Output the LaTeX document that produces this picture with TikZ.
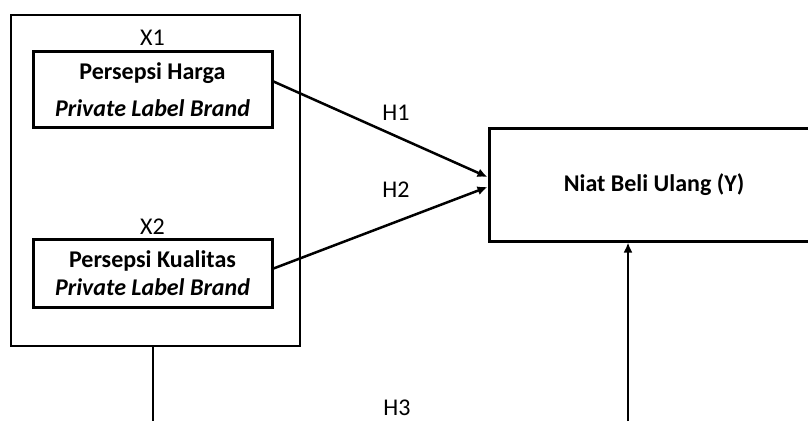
\documentclass[tikz,border=0pt]{standalone}
\usepackage{fontspec}
\setmainfont{Carlito}
\usetikzlibrary{positioning, arrows.meta}

\begin{document}
\begin{tikzpicture}[x=1pt, y=-1pt, node distance={2pt},
    font=\fontsize{24}{28}\selectfont,
    kotak/.style = {draw, line width=3pt, minimum width=239pt, align=center, inner sep=0pt},
    label/.style = {inner sep=0pt},
    panah/.style = {line width=2.5pt, -{Latex[length=10pt, width=9pt]}}]
    \useasboundingbox (0,0) rectangle (808,421);
    \clip (0,0) rectangle (808,421);
    \node[draw, line width=2.2pt, minimum width=289pt, minimum height=331pt] (kelompok) at (155.5,180.5) {};
    \node[kotak, minimum height=76pt] (harga) at (152.5,89.5) {\textbf{Persepsi Harga}\\[9pt] \textbf{\textit{Private Label Brand}}};
    \node[kotak, minimum height=68pt] (kualitas) at (152.5,273.5) {\textbf{Persepsi Kualitas}\\ \textbf{\textit{Private Label Brand}}};
    \node[label] (x1) [above=4pt of harga] {X1};
    \node[label] (x2) [above=3pt of kualitas] {X2};
    \node[draw, line width=3pt, minimum width=330pt, minimum height=113pt] (niat) at (654,184.5) {\textbf{Niat Beli Ulang (Y)}};
    \node[label] (h1) at (396,113) {H1};
    \node[label] (h2) at (396,190) {H2};
    \node[label] (h3) at (397,408) {H3};
    \coordinate (h3L) at (153,421);
    \coordinate (h3R) at (628,421);
    \draw[panah] ([yshift=8pt]harga.east) -- (niat.west |- 0,177);
    \draw[panah] ([yshift=5pt]kualitas.east) -- (niat.west |- 0,187);
    \draw[line width=2pt] (h3L |- kelompok.south) -- (h3L);
    \draw[panah, line width=2pt] (h3R) -- (h3R |- niat.south);
\end{tikzpicture}
\end{document}
